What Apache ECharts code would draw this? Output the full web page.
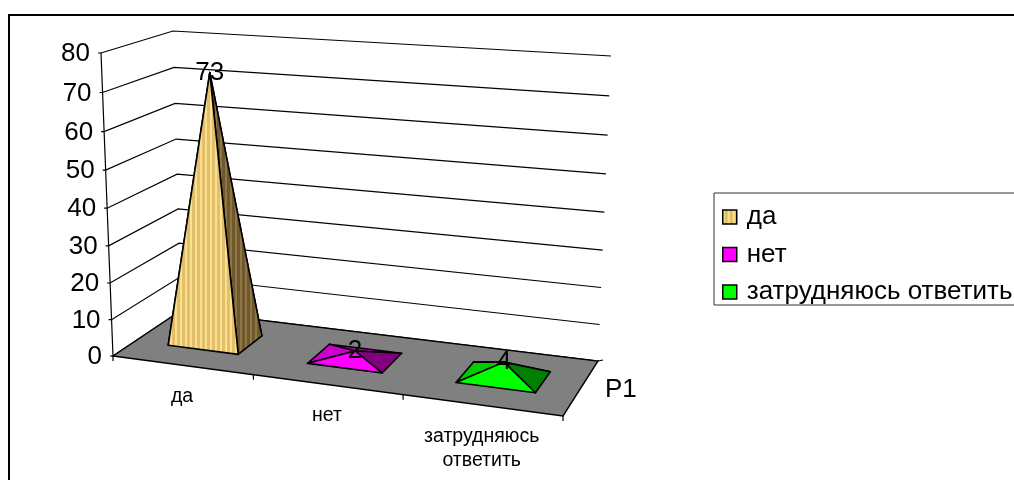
<!DOCTYPE html>
<html>
<head>
<meta charset="utf-8">
<style>html,body{margin:0;padding:0;background:#fff;overflow:hidden}#c{width:1014px;height:480px}</style>
<script src="https://cdn.jsdelivr.net/npm/echarts@6/dist/echarts.min.js"></script>
</head>
<body>
<div id="c"></div>
<script>
const categories = ['да', 'нет', 'затрудняюсь ответить'];
const values = [73, 2, 4];
const yTicks = [0, 10, 20, 30, 40, 50, 60, 70, 80];
const seriesAxisName = 'P1';

const FONT = '"Liberation Sans", Arial, sans-serif';
const grid = {left: 113, top: 53, width: 450, height: 303};

function quadMap(p0, p1, p2, p3) {
  const dx1 = p1[0]-p2[0], dx2 = p3[0]-p2[0], sx = p0[0]-p1[0]+p2[0]-p3[0];
  const dy1 = p1[1]-p2[1], dy2 = p3[1]-p2[1], sy = p0[1]-p1[1]+p2[1]-p3[1];
  const den = dx1*dy2-dx2*dy1;
  const g = (sx*dy2-dx2*sy)/den, h = (dx1*sy-sx*dy1)/den;
  const a = p1[0]-p0[0]+g*p1[0], b = p3[0]-p0[0]+h*p3[0];
  const d = p1[1]-p0[1]+g*p1[1], e = p3[1]-p0[1]+h*p3[1];
  return (u, w) => {
    const q = g*u+h*w+1;
    return [(a*u+b*w+p0[0])/q, (d*u+e*w+p0[1])/q];
  };
}
const floorMap = quadMap([113,356],[563,416],[598,361],[181,310.5]);
const topMap = quadMap([101,53],[578,83],[611,56],[173,31]);
function project(u, w, v) {
  const f = floorMap(u, w), t = topMap(u, w);
  const s = v/(1+0.05*(1-v));
  return [f[0]+(t[0]-f[0])*s, f[1]+(t[1]-f[1])*s];
}
function normU(px) { return (px-grid.left)/grid.width; }
function normV(py) { return (grid.top+grid.height-py)/grid.height; }

function stripes(a, b) {
  const c = document.createElement('canvas');
  c.width = 5; c.height = 4;
  const x = c.getContext('2d');
  x.fillStyle = a; x.fillRect(0,0,2,4);
  x.fillStyle = b; x.fillRect(2,0,3,4);
  return {image: c, repeat: 'repeat'};
}
const lightStripe = stripes('#F9E190', '#E3BF6B');
const darkStripe = stripes('#917645', '#6F5730');
const midStripe = stripes('#C8A860', '#B89850');
const faces = [
  {front: lightStripe, left: midStripe, back: midStripe, right: darkStripe, legend: lightStripe},
  {front: '#FF00FF', left: '#CC00CC', back: '#B000B0', right: '#800080', legend: '#FF00FF'},
  {front: '#00FF00', left: '#00CC00', back: '#00B000', right: '#008000', legend: '#00FF00'}
];

function line(pts, lw) {
  return {type:'polyline', shape:{points:pts}, style:{fill:null, stroke:'#000', lineWidth:lw||1}, silent:true};
}

const wallSeries = {
  type:'custom', coordinateSystem:'cartesian2d', silent:true, z:1,
  data: yTicks.map(t=>[0,t]), encode:{x:0,y:1},
  renderItem(params, api) {
    const p = api.coord([0, api.value(1)]);
    const v = normV(p[1]);
    const a = project(0,0,v), b = project(0,1,v), c = project(1,1,v);
    return {type:'group', children:[
      line([[a[0]-3,a[1]],a,b,c],1.2),
      {type:'text', style:{text:String(api.value(1)), x:a[0]-11, y:a[1]+1, align:'right', verticalAlign:'middle',
        font:'26px '+FONT, fill:'#000'}}
    ]};
  }
};
const yLineSeries = {
  type:'custom', coordinateSystem:'cartesian2d', silent:true, z:2,
  data:[[0,yTicks[0]]], encode:{x:0,y:1},
  renderItem(params, api) {
    const bottom = api.coord([0,yTicks[0]]), top = api.coord([0,yTicks[yTicks.length-1]]);
    return line([project(0,0,normV(bottom[1])), project(0,0,normV(top[1]))],1.2);
  }
};
const floorSeries = {
  type:'custom', coordinateSystem:'cartesian2d', silent:true, z:3,
  data:[[0,yTicks[0]]], encode:{x:0,y:1},
  renderItem(params, api) {
    const pts = [[0,0],[1,0],[1,1],[0,1]].map(q=>project(q[0],q[1],0));
    const br = project(1,1,0), fr = project(1,0,0);
    return {type:'group', children:[
      {type:'polygon', shape:{points:pts}, style:{fill:'#808080', stroke:'#000', lineWidth:1.4}},
      line([br,[br[0]+5,br[1]-1]],1.2),
      line([fr,[fr[0],fr[1]+5]],1.2),
      {type:'text', style:{text:seriesAxisName, x:br[0]+7, y:br[1]+29, align:'left', verticalAlign:'middle',
        font:'26px '+FONT, fill:'#000'}}
    ]};
  }
};
const catSeries = {
  type:'custom', coordinateSystem:'cartesian2d', silent:true, z:3,
  data: categories.map((c,i)=>[i,0]), encode:{x:0,y:1},
  renderItem(params, api) {
    const i = api.value(0);
    const p = api.coord([i,0]), bw = api.size([1,0])[0];
    const uc = normU(p[0]), ul = normU(p[0]-bw/2);
    const f = project(ul,0,0), m = project(uc,0,0);
    return {type:'group', children:[
      line([f,[f[0],f[1]+5]],1.2),
      {type:'text', style:{text:categories[i].replace(' ','\n'), x:m[0], y:m[1]+19, align:'center', verticalAlign:'top',
        font:'19.5px '+FONT, lineHeight:24, fill:'#000'}}
    ]};
  }
};
function pyramidSeries(i) {
  const f = faces[i];
  return {
    type:'custom', coordinateSystem:'cartesian2d', name:categories[i], z:5,
    itemStyle:{color:f.legend, borderColor:'#000', borderWidth:1},
    data:[[i, values[i]]], encode:{x:0,y:1},
    renderItem(params, api) {
      const p = api.coord([api.value(0), api.value(1)]), bw = api.size([1,0])[0];
      const u0 = normU(p[0]-bw*0.255), u1 = normU(p[0]+bw*0.255), uc = normU(p[0]);
      const d0 = 0.31, d1 = 0.70, dc = 0.505, v = normV(p[1]);
      const fl = project(u0,d0,0), fr = project(u1,d0,0), br = project(u1,d1,0), bl = project(u0,d1,0);
      const apex = project(uc,dc,v);
      const face = (pts, fill) => ({type:'polygon', shape:{points:pts},
        style:{fill:fill, stroke:'#000', lineWidth:1.6, lineJoin:'round'}});
      return {type:'group', children:[
        face([bl,br,apex], f.back),
        face([fl,bl,apex], f.left),
        face([fr,br,apex], f.right),
        face([fl,fr,apex], f.front),
        {type:'text', z2:10, style:{text:String(values[i]), x:apex[0], y:apex[1], align:'center', verticalAlign:'middle',
          font:'26px '+FONT, fill:'#000'}}
      ]};
    }
  };
}

const chart = echarts.init(document.getElementById('c'));
chart.setOption({
  animation:false,
  backgroundColor:'#fff',
  grid:{left:grid.left, top:grid.top, width:grid.width, height:grid.height, containLabel:false},
  xAxis:{type:'category', data:categories, show:false, boundaryGap:true},
  yAxis:{type:'value', min:yTicks[0], max:yTicks[yTicks.length-1], interval:10, show:false},
  legend:{
    orient:'vertical', left:714, top:193, align:'left',
    padding:[11,60,0,8], itemGap:11.5, itemWidth:14, itemHeight:14,
    borderColor:'#333', borderWidth:1, backgroundColor:'#fff',
    textStyle:{fontFamily:'Liberation Sans', fontSize:26, color:'#000', lineHeight:25, padding:[0,0,0,5]},
    data:categories.map((c,i)=>({name:c, icon:'rect',
      itemStyle:{color:faces[i].legend, borderColor:'#000', borderWidth:1.5}}))
  },
  graphic:[{type:'rect', silent:true, z:-1, shape:{x:9,y:15,width:1200,height:700},
    style:{fill:null, stroke:'#000', lineWidth:2}}],
  series:[wallSeries, yLineSeries, floorSeries, catSeries, pyramidSeries(0), pyramidSeries(1), pyramidSeries(2)]
});
</script>
</body>
</html>
